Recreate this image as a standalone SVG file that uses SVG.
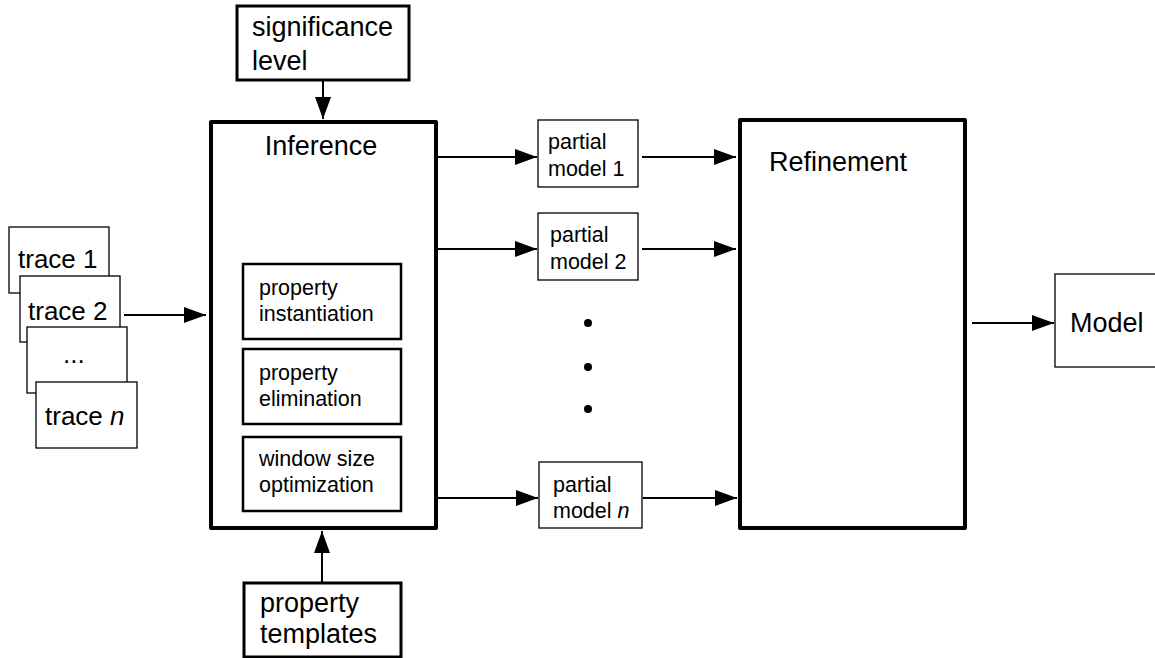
<svg xmlns="http://www.w3.org/2000/svg" width="1155" height="658" viewBox="0 0 1155 658">
  <style>
    text { font-family: "Liberation Sans", Arial, sans-serif; fill: #000; }
    .big { font-size: 27px; }
    .trace { font-size: 26px; }
    .small { font-size: 21.5px; }
    .thick { fill: #fff; stroke: #000; stroke-width: 4; stroke-linejoin: round; }
    .mid { fill: #fff; stroke: #000; stroke-width: 3; }
    .inner { fill: #fff; stroke: #000; stroke-width: 2.5; }
    .thin { fill: #fff; stroke: #000; stroke-width: 1.3; }
    .edge { stroke: #000; stroke-width: 2; fill: none; marker-end: url(#arrow); }
  </style>
  <defs>
    <marker id="arrow" markerUnits="userSpaceOnUse" markerWidth="24" markerHeight="18" refX="22" refY="8" orient="auto">
      <path d="M0,0 L22,8 L0,16 Z" fill="#000"/>
    </marker>
  </defs>
  <rect width="1155" height="658" fill="#fff"/>

  <!-- input traces -->
  <g id="trace-1">
    <rect class="thin" x="9" y="227" width="100" height="66"/>
    <text class="trace" x="18" y="268">trace 1</text>
  </g>
  <g id="trace-2">
    <rect class="thin" x="20" y="276" width="100" height="66"/>
    <text class="trace" x="28" y="320">trace 2</text>
  </g>
  <g id="trace-dots">
    <rect class="thin" x="27" y="327" width="100" height="66"/>
    <text class="trace" x="63" y="363">...</text>
  </g>
  <g id="trace-n">
    <rect class="thin" x="36" y="382" width="101" height="66"/>
    <text class="trace" x="45" y="425">trace <tspan font-style="italic">n</tspan></text>
  </g>

  <!-- significance level -->
  <g id="significance-level">
    <rect class="mid" x="237" y="6" width="172" height="74"/>
    <text class="big" x="252" y="36">significance</text>
    <text class="big" x="252" y="70">level</text>
  </g>

  <!-- inference stage -->
  <g id="inference">
    <rect class="thick" x="211" y="122" width="225" height="406"/>
    <text class="big" x="321" y="155" text-anchor="middle">Inference</text>
  </g>
  <g id="property-instantiation">
    <rect class="inner" x="243" y="264" width="158" height="75"/>
    <text class="small" x="259" y="295">property</text>
    <text class="small" x="259" y="321">instantiation</text>
  </g>
  <g id="property-elimination">
    <rect class="inner" x="243" y="349" width="158" height="75"/>
    <text class="small" x="259" y="380">property</text>
    <text class="small" x="259" y="406">elimination</text>
  </g>
  <g id="window-size-optimization">
    <rect class="inner" x="243" y="437" width="158" height="74"/>
    <text class="small" x="259" y="466">window size</text>
    <text class="small" x="259" y="492">optimization</text>
  </g>

  <!-- property templates -->
  <g id="property-templates">
    <rect class="mid" x="244" y="583" width="157" height="74"/>
    <text class="big" x="260" y="612">property</text>
    <text class="big" x="260" y="643">templates</text>
  </g>

  <!-- partial models -->
  <g id="partial-model-1">
    <rect class="thin" x="538" y="120" width="100" height="67"/>
    <text class="small" x="548" y="149">partial</text>
    <text class="small" x="548" y="176">model 1</text>
  </g>
  <g id="partial-model-2">
    <rect class="thin" x="538" y="213" width="100" height="67"/>
    <text class="small" x="550" y="242">partial</text>
    <text class="small" x="550" y="269">model 2</text>
  </g>
  <g id="ellipsis">
    <circle cx="588" cy="323" r="4" fill="#000"/>
    <circle cx="588" cy="367" r="4" fill="#000"/>
    <circle cx="588" cy="409" r="4" fill="#000"/>
  </g>
  <g id="partial-model-n">
    <rect class="thin" x="539" y="462" width="103" height="66"/>
    <text class="small" x="553" y="492">partial</text>
    <text class="small" x="553" y="518">model <tspan font-style="italic">n</tspan></text>
  </g>

  <!-- refinement stage -->
  <g id="refinement">
    <rect class="thick" x="740" y="120" width="225" height="408"/>
    <text class="big" x="769" y="171">Refinement</text>
  </g>

  <!-- final model -->
  <g id="model">
    <rect class="thin" x="1055" y="274" width="104" height="93"/>
    <text class="big" x="1070" y="332">Model</text>
  </g>

  <!-- connectors -->
  <g id="connectors">
    <line class="edge" x1="124" y1="315" x2="206" y2="315"/>
    <line class="edge" x1="323" y1="80" x2="323" y2="119"/>
    <line class="edge" x1="322" y1="583" x2="322" y2="531"/>
    <line class="edge" x1="438" y1="157" x2="537" y2="157"/>
    <line class="edge" x1="438" y1="249" x2="537" y2="249"/>
    <line class="edge" x1="438" y1="498" x2="538" y2="498"/>
    <line class="edge" x1="642" y1="157" x2="736" y2="157"/>
    <line class="edge" x1="642" y1="249" x2="736" y2="249"/>
    <line class="edge" x1="643" y1="498" x2="737" y2="498"/>
    <line class="edge" x1="972" y1="323" x2="1054" y2="323"/>
  </g>
</svg>
